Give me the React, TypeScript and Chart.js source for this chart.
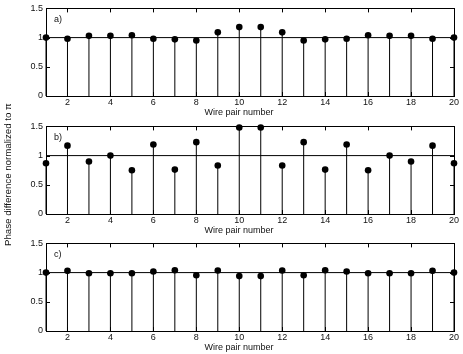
import React, { useEffect, useRef } from "react";
import { Chart, registerables } from "chart.js";

Chart.register(...registerables);

const wirePairs = [1, 2, 3, 4, 5, 6, 7, 8, 9, 10, 11, 12, 13, 14, 15, 16, 17, 18, 19, 20];
const phaseA = [1.0, 0.98, 1.03, 1.03, 1.04, 0.98, 0.97, 0.95, 1.09, 1.18, 1.18, 1.09, 0.95, 0.97, 0.98, 1.04, 1.03, 1.03, 0.98, 1.0];
const phaseB = [0.87, 1.17, 0.9, 1.0, 0.75, 1.19, 0.76, 1.23, 0.83, 1.48, 1.48, 0.83, 1.23, 0.76, 1.19, 0.75, 1.0, 0.9, 1.17, 0.87];
const phaseC = [1.0, 1.03, 0.99, 0.99, 0.99, 1.02, 1.04, 0.955, 1.035, 0.94, 0.94, 1.035, 0.955, 1.04, 1.02, 0.99, 0.99, 0.99, 1.03, 1.0];
const referenceLevel = 1;
const xTickValues = [2, 4, 6, 8, 10, 12, 14, 16, 18, 20];
const yTickValues = [0, 0.5, 1, 1.5];
const panelLabels = ["a)", "b)", "c)"];
const xAxisTitle = "Wire pair number";
const yAxisTitle = "Phase difference normalized to π";

const FONT = "'Liberation Sans', Arial, Helvetica, sans-serif";
const TEXT_COLOR = "#111";

const stemPlugin = {
  id: "stemsAndFrame",
  beforeDatasetsDraw(chart: any) {
    const { ctx, chartArea, scales } = chart;
    const x = scales.x;
    const y = scales.y;
    const { left, right, top, bottom } = chartArea;
    ctx.save();
    ctx.strokeStyle = "#000";
    ctx.lineWidth = 1;
    ctx.strokeRect(Math.round(left) + 0.5, Math.round(top) + 0.5, Math.round(right - left), Math.round(bottom - top));
    const tl = 4;
    ctx.beginPath();
    xTickValues.forEach((v) => {
      const px = Math.round(x.getPixelForValue(v)) + 0.5;
      ctx.moveTo(px, bottom);
      ctx.lineTo(px, bottom - tl);
      ctx.moveTo(px, top);
      ctx.lineTo(px, top + tl);
    });
    yTickValues.forEach((v) => {
      const py = Math.round(y.getPixelForValue(v)) + 0.5;
      ctx.moveTo(left, py);
      ctx.lineTo(left + tl, py);
      ctx.moveTo(right, py);
      ctx.lineTo(right - tl, py);
    });
    ctx.stroke();
    const ds = chart.data.datasets[0];
    const y0 = y.getPixelForValue(0);
    ctx.beginPath();
    ds.data.forEach((p: any) => {
      const px = x.getPixelForValue(p.x);
      ctx.moveTo(px, y0);
      ctx.lineTo(px, y.getPixelForValue(p.y));
    });
    ctx.stroke();
    ctx.restore();
  },
  afterDraw(chart: any) {
    const { ctx, chartArea } = chart;
    const { left, right, top, bottom } = chartArea;
    const opts = chart.options.plugins.stemsAndFrame || {};
    ctx.save();
    ctx.fillStyle = TEXT_COLOR;
    ctx.font = `9px ${FONT}`;
    ctx.textBaseline = "middle";
    ctx.textAlign = "left";
    if (opts.label) ctx.fillText(opts.label, left + 8, top + 11);
    ctx.textAlign = "center";
    ctx.fillText(xAxisTitle, (left + right) / 2 - 11, bottom + 17);
    ctx.restore();
  },
};

function Panel({ values, label, top }: { values: number[]; label: string; top: number }) {
  const ref = useRef<HTMLCanvasElement>(null);
  useEffect(() => {
    if (!ref.current) return;
    const chart = new Chart(ref.current, {
      type: "scatter",
      data: {
        datasets: [
          {
            type: "scatter",
            data: wirePairs.map((x, i) => ({ x, y: values[i] })),
            pointRadius: 3.3,
            pointBackgroundColor: "#000",
            pointBorderWidth: 0,
            clip: false,
          } as any,
          {
            type: "line",
            data: [
              { x: wirePairs[0], y: referenceLevel },
              { x: wirePairs[wirePairs.length - 1], y: referenceLevel },
            ],
            borderColor: "#000",
            borderWidth: 1,
            pointRadius: 0,
            clip: false,
          } as any,
        ],
      },
      options: {
        responsive: false,
        animation: false,
        events: [],
        layout: { padding: { top: 8, right: 9, left: 0, bottom: 0 }, autoPadding: false } as any,
        plugins: {
          legend: { display: false },
          tooltip: { enabled: false },
          stemsAndFrame: { label },
        } as any,
        scales: {
          x: {
            type: "linear",
            min: 1,
            max: 20,
            afterBuildTicks: (s: any) => {
              s.ticks = xTickValues.map((v) => ({ value: v }));
            },
            afterFit: (s: any) => {
              s.height = 22;
            },
            grid: { display: false, drawTicks: false },
            border: { display: false },
            ticks: {
              padding: 1,
              color: TEXT_COLOR,
              font: { family: FONT, size: 9 },
              maxRotation: 0,
              autoSkip: false,
              callback: (v: any) => String(v),
            },
          },
          y: {
            type: "linear",
            min: 0,
            max: 1.5,
            afterBuildTicks: (s: any) => {
              s.ticks = yTickValues.map((v) => ({ value: v }));
            },
            afterFit: (s: any) => {
              s.width = 46;
            },
            grid: { display: false, drawTicks: false },
            border: { display: false },
            ticks: {
              padding: 3,
              color: TEXT_COLOR,
              font: { family: FONT, size: 9 },
              autoSkip: false,
              callback: (v: any) => String(v),
            },
          },
        },
      },
      plugins: [stemPlugin],
    });
    return () => chart.destroy();
  }, [values, label]);
  return (
    <canvas
      ref={ref}
      width={463}
      height={118}
      style={{ position: "absolute", left: 0, top, width: 463, height: 118 }}
    />
  );
}

export default function App() {
  return (
    <div style={{ position: "absolute", left: 0, top: 0, width: 463, height: 354, background: "#fff", overflow: "hidden" }}>
      <Panel values={phaseA} label={panelLabels[0]} top={0} />
      <Panel values={phaseB} label={panelLabels[1]} top={118} />
      <Panel values={phaseC} label={panelLabels[2]} top={235} />
      <div
        style={{
          position: "absolute",
          left: 3,
          top: 97,
          height: 156,
          width: 10,
          writingMode: "vertical-rl",
          transform: "rotate(180deg)",
          textAlign: "center",
          whiteSpace: "nowrap",
          fontFamily: FONT,
          fontSize: 9.7,
          color: TEXT_COLOR,
          lineHeight: "10px",
        }}
      >
        {yAxisTitle}
      </div>
    </div>
  );
}
